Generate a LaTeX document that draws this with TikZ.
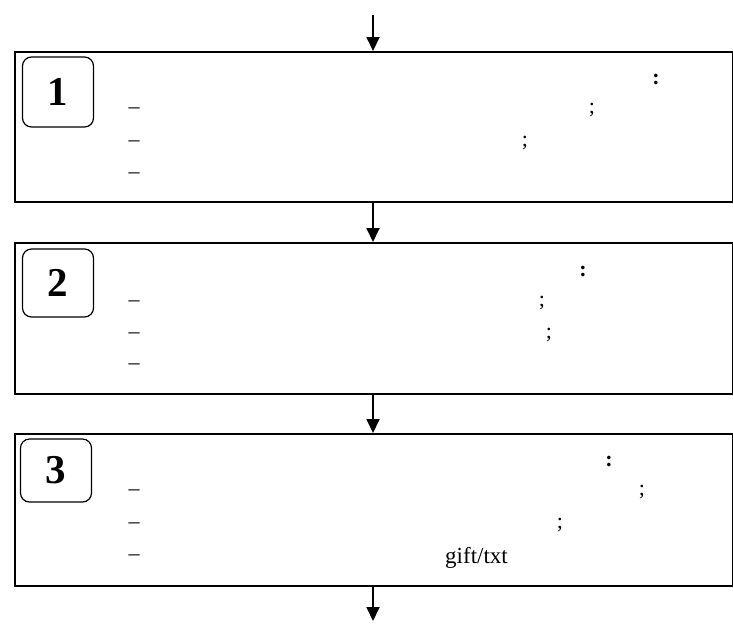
\documentclass[tikz,border=0pt]{standalone}
\usepackage{fontspec}
\setmainfont{Liberation Serif}
\usetikzlibrary{arrows.meta}
\begin{document}
\begin{tikzpicture}[x=1pt,y=-1pt,
  stagebox/.style={draw,line width=1.6pt,inner sep=0pt,anchor=north west},
  numbox/.style={draw,line width=1.2pt,rounded corners=9pt,minimum width=71pt,minimum height=70pt,inner sep=0pt,font=\fontsize{41}{41}\selectfont\bfseries},
  txt/.style={font=\fontsize{22}{22}\selectfont,anchor=base,inner sep=0pt},
  btxt/.style={font=\fontsize{22}{22}\selectfont\bfseries,anchor=base,inner sep=0pt},
  flow/.style={line width=1.8pt,-{Triangle[length=14pt,width=13pt]}}]
\useasboundingbox (0,0) rectangle (733,630);
% stage boxes
\node[stagebox,minimum width=718pt,minimum height=150pt] (b1) at (14,51) {};
\node[stagebox,minimum width=718pt,minimum height=151pt] (b2) at (14,242) {};
\node[stagebox,minimum width=718pt,minimum height=152pt] (b3) at (14,433) {};
% number boxes
\node[numbox,minimum height=70pt] (n1) at (58,92) {1};
\node[numbox,minimum height=68pt] (n2) at (58,283) {2};
\node[numbox,minimum height=63pt] (n3) at (56,470.5) {3};
% box 1 text
\node[btxt] (c1) at (656,84) {:};
\node[txt] (d11) at (134,113) {–};
\node[txt] (d12) at (134,146) {–};
\node[txt] (d13) at (134,178) {–};
\node[txt] (s11) at (592,113) {;};
\node[txt] (s12) at (525,146) {;};
% box 2 text
\node[btxt] (c2) at (583,276) {:};
\node[txt] (d21) at (134,306) {–};
\node[txt] (d22) at (134,338) {–};
\node[txt] (d23) at (134,369) {–};
\node[txt] (s21) at (542,306) {;};
\node[txt] (s22) at (549,338) {;};
% box 3 text
\node[btxt] (c3) at (609,466) {:};
\node[txt] (d31) at (134,495) {–};
\node[txt] (d32) at (134,528) {–};
\node[txt] (d33) at (134,560) {–};
\node[txt] (s31) at (642,495) {;};
\node[txt] (s32) at (560,528) {;};
\node[txt,font=\fontsize{23}{23}\selectfont] (g3) at (476.5,563) {gift/txt};
% arrows
\coordinate (top) at (373,15);
\coordinate (bot) at (373,621);
\draw[flow] (top) -- (top |- b1.north);
\draw[flow] (top |- b1.south) -- (top |- b2.north);
\draw[flow] (top |- b2.south) -- (top |- b3.north);
\draw[flow] (top |- b3.south) -- (bot);
\end{tikzpicture}
\end{document}
